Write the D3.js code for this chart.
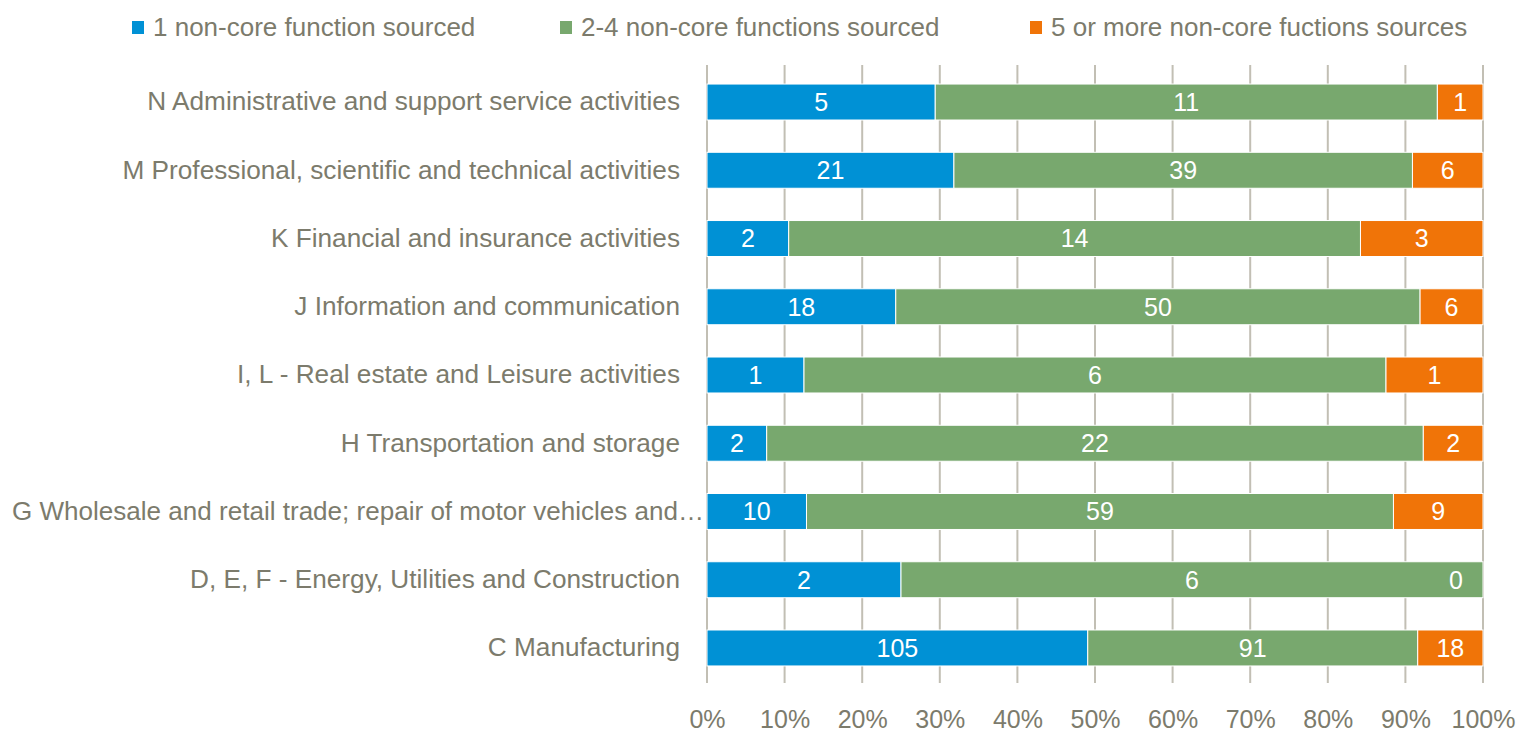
<!DOCTYPE html>
<html>
<head>
<meta charset="utf-8">
<script src="https://cdn.jsdelivr.net/npm/d3@7"></script>
<style>
  body { margin: 0; background: #fff; }
  svg text { font-family: 'Liberation Sans Narrow', 'Arial Narrow', 'Liberation Sans', Arial, sans-serif; }
</style>
</head>
<body>
<svg id="chart" width="1518" height="733"></svg>
<script>
const categories = [
  'N Administrative and support service activities',
  'M Professional, scientific and technical activities',
  'K Financial and insurance activities',
  'J Information and communication',
  'I, L - Real estate and Leisure activities',
  'H Transportation and storage',
  'G Wholesale and retail trade; repair of motor vehicles and\u2026',
  'D, E, F - Energy, Utilities and Construction',
  'C Manufacturing'
]
const oneFunction = [5, 21, 2, 18, 1, 2, 10, 2, 105]
const twoToFour = [11, 39, 14, 50, 6, 22, 59, 6, 91]
const fiveOrMore = [1, 6, 3, 6, 1, 2, 9, 0, 18]
const seriesNames = ['1 non-core function sourced', '2-4 non-core functions sourced', '5 or more non-core fuctions sources']
const seriesColors = ['#0091d5', '#78a86e', '#f07408']
const ticks = [0, 0.1, 0.2, 0.3, 0.4, 0.5, 0.6, 0.7, 0.8, 0.9, 1]

const textColor = '#7c7b6c'
const gridColor = '#c2bfb4'

const svg = d3.select('#chart')
const margin = { left: 707, right: 1483, top: 67.9, bottom: 682.1 }

const rows = categories.map((c, i) => {
  const vals = [oneFunction[i], twoToFour[i], fiveOrMore[i]]
  const total = d3.sum(vals)
  let acc = 0
  const segs = vals.map((v, k) => {
    const s = { key: k, value: v, x0: acc / total, x1: (acc + v) / total }
    acc += v
    return s
  })
  return { cat: c, segs }
})

const x = d3.scaleLinear().domain([0, 1]).range([margin.left, margin.right])
const y = d3.scaleBand().domain(categories).range([margin.top, margin.bottom])
  .paddingInner(0.473).paddingOuter(0.2365)

// gridlines
svg.append('g').selectAll('line').data(ticks)
  .enter().append('line')
    .attr('x1', d => x(d)).attr('x2', d => x(d))
    .attr('y1', margin.top - 3).attr('y2', margin.bottom + 1)
    .attr('stroke', gridColor).attr('stroke-width', 2)

// bars
const rowG = svg.append('g').selectAll('g.row').data(rows)
  .enter().append('g')
    .attr('class', 'row')
    .attr('transform', d => `translate(0,${y(d.cat)})`)

rowG.selectAll('rect').data(d => d.segs)
  .enter().append('rect')
    .attr('x', d => x(d.x0))
    .attr('width', d => x(d.x1) - x(d.x0))
    .attr('height', y.bandwidth())
    .attr('fill', d => seriesColors[d.key])
    .attr('stroke', '#fff')
    .attr('stroke-width', 1)

rowG.selectAll('text').data(d => d.segs)
  .enter().append('text')
    .attr('x', d => x(d.x0 + (d.x1 - d.x0) / 2))
    .attr('y', y.bandwidth() / 2)
    .attr('dy', '0.36em')
    .attr('text-anchor', d => d.x1 - d.x0 < 0.0001 ? 'end' : 'middle')
    .attr('dx', d => d.x1 - d.x0 < 0.0001 ? -20 : 0)
    .attr('fill', '#fff')
    .attr('font-size', 25)
    .text(d => d.value)

// category labels
const yAxis = d3.axisLeft(y).tickSize(0).tickPadding(27)
svg.append('g')
  .attr('transform', `translate(${margin.left},0)`)
  .call(yAxis)
  .call(g => g.select('.domain').remove())
  .selectAll('text')
    .attr('fill', textColor)
    .attr('font-size', 26.2)
    .each(function() {
      // the truncated label runs almost up to the axis, squeeze it to fit
      if (this.getComputedTextLength() > 670) {
        d3.select(this)
          .attr('x', -3)
          .attr('textLength', 692)
          .attr('lengthAdjust', 'spacingAndGlyphs')
      }
    })

// x axis labels
const xAxis = d3.axisBottom(x).tickValues(ticks).tickFormat(d3.format('.0%')).tickSize(0).tickPadding(28)
svg.append('g')
  .attr('transform', `translate(0,${margin.bottom})`)
  .call(xAxis)
  .call(g => g.select('.domain').remove())
  .selectAll('text')
    .attr('fill', textColor)
    .attr('font-size', 25)

// legend
const legendX = [132, 560, 1030]
const legend = svg.append('g').selectAll('g').data(seriesNames)
  .enter().append('g')
    .attr('transform', (d, i) => `translate(${legendX[i]},27)`)

legend.append('rect')
  .attr('y', -6).attr('width', 12).attr('height', 13)
  .attr('fill', (d, i) => seriesColors[i])

legend.append('text')
  .attr('x', 21)
  .attr('dy', '0.36em')
  .attr('fill', textColor)
  .attr('font-size', 26)
  .text(d => d)
</script>
</body>
</html>
